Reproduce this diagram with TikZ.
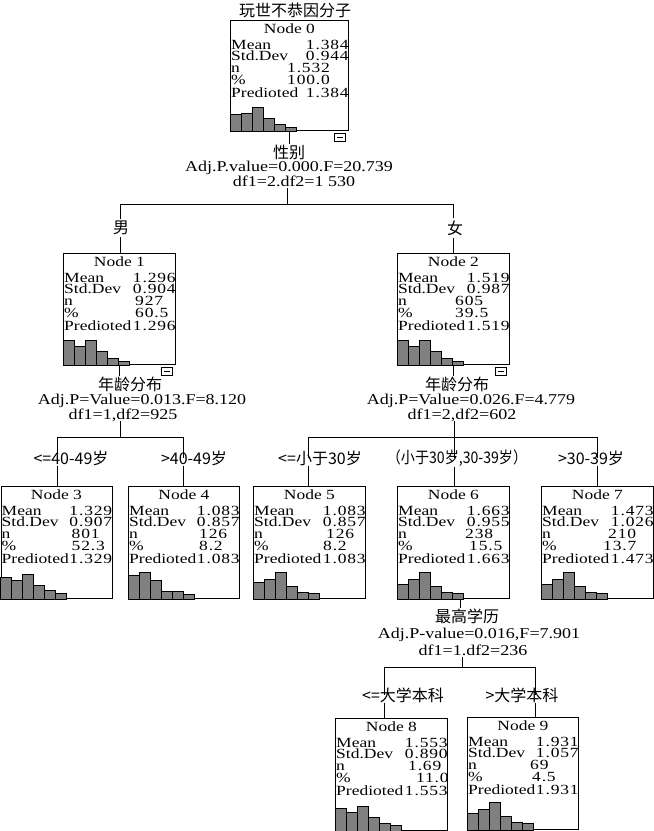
\documentclass[tikz,border=0pt]{standalone}
\usepackage{fontspec}
\usepackage{graphicx}
\newfontfamily\boxf{Liberation Serif}[FakeStretch=1.25]
\newfontfamily\valf{Liberation Serif}[FakeStretch=1.25,LetterSpace=6]
\newfontfamily\labf{Liberation Serif}[FakeStretch=1.2]
\newfontfamily\cjk{Noto Sans CJK SC}
\usetikzlibrary{calc}
\definecolor{bargray}{HTML}{808080}
\tikzset{
  treebox/.style={draw, line width=0.9pt, inner sep=0pt, anchor=north west},
  btxt/.style={font=\boxf\fontsize{14}{15}\selectfont, inner sep=0pt, text height=8.5pt, text depth=0.5pt},
  vtxt/.style={font=\valf\fontsize{14}{15}\selectfont, inner sep=0pt, text height=8.5pt, text depth=0.5pt},
  ltxt/.style={font=\labf\fontsize{15}{16}\selectfont, inner sep=0pt, anchor=base, text height=9.5pt, text depth=2pt},
  ctxt/.style={font=\cjk\fontsize{16}{18}\selectfont, inner sep=0pt},
  histbar/.style={draw, fill=bargray, line width=0.7pt},
  conn/.style={line width=0.9pt},
  minusbox/.style={draw, line width=0.8pt, minimum width=11pt, minimum height=8pt, inner sep=0pt, anchor=north east},
}
% box frame + title
\newcommand\tbox[6]{%
  \node[treebox, minimum width=#4pt, minimum height=#5pt] (#1) at (#2,#3) {};
  \node[btxt, anchor=base] (#1-t) at ($(#1.north)+(0,13)$) {Node #6};
}
% values: name, mean, sd, n, noff, pct, poff, pred
\newcommand\tvals[8]{%
  \node[btxt, anchor=base west] (#1-ml) at ($(#1.north west)+(1,29)$) {Mean};
  \node[vtxt, anchor=base east] (#1-mv) at ($(#1.north east)+(0,29)$) {#2};
  \node[btxt, anchor=base west] (#1-sl) at ($(#1.north west)+(1,40)$) {Std.Dev};
  \node[vtxt, anchor=base east] (#1-sv) at ($(#1.north east)+(0,40)$) {#3};
  \node[btxt, anchor=base west] (#1-nl) at ($(#1.north west)+(1,52)$) {n};
  \node[vtxt, anchor=base west] (#1-nv) at ($(#1.north west)+(#5,52)$) {#4};
  \node[btxt, anchor=base west] (#1-pl) at ($(#1.north west)+(1,64)$) {\%};
  \node[vtxt, anchor=base west] (#1-pv) at ($(#1.north west)+(#7,64)$) {#6};
  \node[btxt, anchor=base west] (#1-rl) at ($(#1.north west)+(1,77)$) {Predioted};
  \node[vtxt, anchor=base east] (#1-rv) at ($(#1.north east)+(0,77)$) {#8};
}
% histogram bars
\newcommand\tbars[7]{%
  \foreach \h [count=\i from 0] in {#2,#3,#4,#5,#6,#7}{
    \draw[histbar] ($(#1.south west)+(\i*11,0)$) rectangle ++(11,-\h);
  }
}
% collapse box
\newcommand\tminus[2]{%
  \node[minusbox] (#1) at ($(#2.south east)+(-3,2)$) {};
  \draw[line width=0.8pt] ($(#1.center)+(-3,0)$) -- ($(#1.center)+(3,0)$);
}
\begin{document}
\begin{tikzpicture}[x=1pt,y=-1pt]
\useasboundingbox (0,0) rectangle (654,831);
\fill[white] (0,0) rectangle (654,831);

\node[ctxt] (title) at (295,10) {玩世不恭因分子};

% ---- boxes
\tbox{n0}{230}{20}{118}{110}{0}
\tvals{n0}{1.384}{0.944}{1.532}{57}{100.0}{57}{1.384}
\tbars{n0}{17}{18}{24}{13}{7}{4}
\tminus{m0}{n0}

\tbox{n1}{63}{253}{112}{111}{1}
\tvals{n1}{1.296}{0.904}{927}{72}{60.5}{72}{1.296}
\tbars{n1}{25}{19}{25}{14}{7}{4}
\tminus{m1}{n1}

\tbox{n2}{397}{253}{112}{111}{2}
\tvals{n2}{1.519}{0.987}{605}{58}{39.5}{58}{1.519}
\tbars{n2}{25}{19}{25}{14}{7}{4}
\tminus{m2}{n2}

\tbox{n3}{0.5}{486}{111}{112}{3}
\tvals{n3}{1.329}{0.907}{801}{71}{52.3}{71}{1.329}
\tbars{n3}{22}{19}{25}{14}{9}{6}

\tbox{n4}{128}{486}{111}{112}{4}
\tvals{n4}{1.083}{0.857}{126}{71}{8.2}{71}{1.083}
\tbars{n4}{24}{27}{19}{8}{8}{5}

\tbox{n5}{253}{486}{112}{112}{5}
\tvals{n5}{1.083}{0.857}{126}{73}{8.2}{70}{1.083}
\tbars{n5}{17}{20}{27}{13}{7}{6}

\tbox{n6}{397}{486}{112}{112}{6}
\tvals{n6}{1.663}{0.955}{238}{68}{15.5}{72}{1.663}
\tbars{n6}{15}{20}{27}{13}{7}{6}

\tbox{n7}{541}{486}{112}{112}{7}
\tvals{n7}{1.473}{1.026}{210}{67}{13.7}{62}{1.473}
\tbars{n7}{15}{20}{27}{13}{7}{6}

\tbox{n8}{335}{718}{112}{112}{8}
\tvals{n8}{1.553}{0.890}{1.69}{73}{11.0}{81}{1.553}
\tbars{n8}{23}{19}{25}{14}{8}{6}

\tbox{n9}{467}{717}{111}{112}{9}
\tvals{n9}{1.931}{1.057}{69}{63}{4.5}{65}{1.931}
\tbars{n9}{17}{21}{28}{14}{8}{7}

% ---- split labels
\node[ctxt] (s0a) at (289,152) {性别};
\node[ltxt] (s0b) at (289,171) {Adj.P.value=0.000.F=20.739};
\node[ltxt] (s0c) at (294,186) {df1=2.df2=1 530};

\node[ctxt] (s1a) at (130,384) {年龄分布};
\node[ltxt] (s1b) at (142,404) {Adj.P=Value=0.013.F=8.120};
\node[ltxt] (s1c) at (123,419) {df1=1,df2=925};

\node[ctxt] (s2a) at (457,384) {年龄分布};
\node[ltxt] (s2b) at (471,404) {Adj.P=Value=0.026.F=4.779};
\node[ltxt] (s2c) at (462,419) {df1=2,df2=602};

\node[ctxt] (s6a) at (467,616) {最高学历};
\node[ltxt] (s6b) at (479,638) {Adj.P-value=0.016,F=7.901};
\node[ltxt] (s6c) at (473,655) {df1=1.df2=236};

% ---- branch labels
\node[ctxt] (b1) at (121,228) {男};
\node[ctxt] (b2) at (455,228) {女};
\node[ctxt] (b3) at (71,458) {<=40-49岁};
\node[ctxt] (b4) at (194,458) {>40-49岁};
\node[ctxt] (b5) at (320,458) {<=小于30岁};
\node[ctxt] (b6) at (457,458) {\scalebox{0.88}[1]{（小于30岁,30-39岁）}};
\node[ctxt] (b7) at (591,458) {>30-39岁};
\node[ctxt] (b8) at (403,695) {<=大学本科};
\node[ctxt] (b9) at (522,695) {>大学本科};

% ---- connectors
\coordinate (h0m) at (287,204);
\coordinate (h0l) at (120,204);
\coordinate (h0r) at (453,204);
\draw[conn] (n0.south) -- (n0.south |- s0a.north);
\draw[conn] (h0m |- s0c.south) -- (h0m);
\draw[conn] (h0l) -- (h0r);
\draw[conn] (h0l) -- ($(h0l |- b1.north)+(0,-2)$);
\draw[conn] ($(h0l |- b1.south)+(0,2)$) -- (h0l |- n1.north);
\draw[conn] (h0r) -- ($(h0r |- b2.north)+(0,-2)$);
\draw[conn] ($(h0r |- b2.south)+(0,2)$) -- (h0r |- n2.north);

\coordinate (h1m) at (120,437);
\coordinate (h1l) at (57,437);
\coordinate (h1r) at (183,437);
\draw[conn] (n1.south) -- (n1.south |- s1a.north);
\draw[conn] (h1m |- s1c.south) -- (h1m);
\draw[conn] (h1l) -- (h1r);
\draw[conn] (h1l) -- (h1l |- b3.center);
\draw[conn] (h1l |- b3.south) -- (h1l |- n3.north);
\draw[conn] (h1r) -- (h1r |- b4.center);
\draw[conn] (h1r |- b4.south) -- (h1r |- n4.north);

\coordinate (h2m) at (454,437);
\coordinate (h2l) at (308,437);
\coordinate (h2r) at (597,437);
\draw[conn] (n2.south) -- (n2.south |- s2a.north);
\draw[conn] (h2m |- s2c.south) -- (h2m |- b6.center);
\draw[conn] (h2l) -- (h2r);
\draw[conn] (h2l) -- (h2l |- b5.center);
\draw[conn] (h2l |- b5.south) -- (h2l |- n5.north);
\draw[conn] (h2m |- b6.south) -- (h2m |- n6.north);
\draw[conn] (h2r) -- (h2r |- b7.center);
\draw[conn] (h2r |- b7.south) -- (h2r |- n7.north);

\coordinate (n6o) at ($(n6.south)+(7,0)$);
\coordinate (h6m) at (462,667);
\coordinate (h6l) at (384,667);
\coordinate (h6r) at (535,667);
\draw[conn] (n6o) -- (n6o |- s6a.north);
\draw[conn] (h6m |- s6c.south) -- (h6m);
\draw[conn] (h6l) -- (h6r);
\draw[conn] (h6l) -- (h6l |- b8.center);
\draw[conn] (h6l |- b8.south) -- (h6l |- n8.north);
\draw[conn] (h6r) -- (h6r |- b9.center);
\draw[conn] (h6r |- b9.south) -- (h6r |- n9.north);
\end{tikzpicture}
\end{document}
